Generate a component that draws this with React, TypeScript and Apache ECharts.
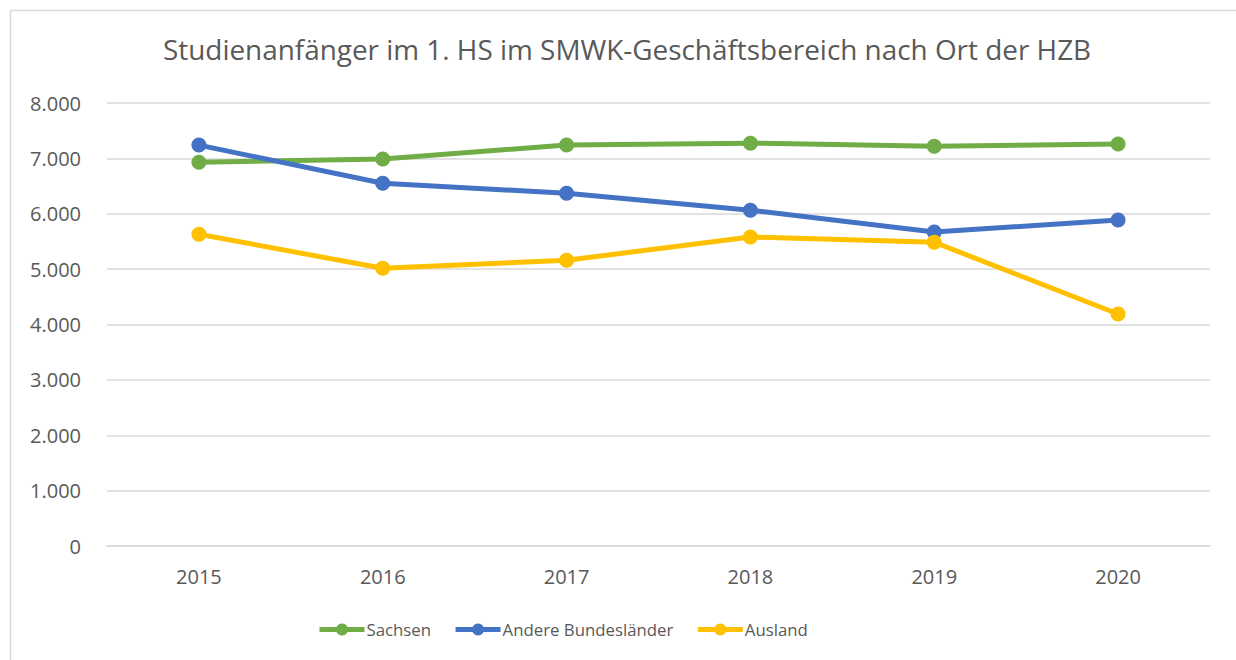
import React, { useEffect, useRef } from "react";
import * as echarts from "echarts";

const years = ["2015", "2016", "2017", "2018", "2019", "2020"];
const sachsen = [6930, 6990, 7240, 7275, 7220, 7260];
const andere = [7240, 6550, 6370, 6065, 5670, 5885];
const ausland = [5630, 5015, 5160, 5580, 5485, 4190];

const fmt = (v: number) => (v === 0 ? "0" : v.toLocaleString("de-DE"));

export default function App() {
  const ref = useRef<HTMLDivElement>(null);
  useEffect(() => {
    const chart = echarts.init(ref.current!, null, { renderer: "svg" });
    const font = "Open Sans, Noto Sans, sans-serif";
    const mk = (name: string, data: number[], color: string) => ({
      name,
      type: "line",
      data,
      symbol: "circle",
      symbolSize: 15,
      lineStyle: { width: 5, color },
      itemStyle: { color },
      z: 3,
    });
    chart.setOption({
      animation: false,
      backgroundColor: "#ffffff",
      title: {
        text: "Studienanfänger im 1. HS im SMWK-Geschäftsbereich nach Ort der HZB",
        left: 158,
        top: 30,
        textStyle: { fontFamily: font, fontSize: 27.9, fontWeight: "normal", color: "#595959" },
      },
      grid: { left: 107, right: 26, top: 103, bottom: 114 },
      legend: {
        bottom: 22,
        left: 317,
        padding: 0,
        itemWidth: 45,
        itemHeight: 15,
        itemGap: 22,
        lineStyle: { width: 5 },
        textStyle: { fontFamily: font, fontSize: 16.8, color: "#595959", padding: [0, 0, 0, -3] },
        data: ["Sachsen", "Andere Bundesländer", "Ausland"],
      },
      xAxis: {
        type: "category",
        data: years,
        boundaryGap: true,
        axisLine: { show: true, lineStyle: { color: "#d9d9d9", width: 1.5 } },
        axisTick: { show: false },
        axisLabel: { fontFamily: font, fontSize: 20, color: "#595959", margin: 20 },
      },
      yAxis: {
        type: "value",
        min: 0,
        max: 8000,
        interval: 1000,
        axisLine: { show: false },
        axisTick: { show: false },
        splitLine: { lineStyle: { color: "#d9d9d9", width: 1.5 } },
        axisLabel: { fontFamily: font, fontSize: 20, color: "#595959", margin: 26, formatter: fmt },
      },
      graphic: [
        { type: "line", shape: { x1: 10.5, y1: 10.5, x2: 1236, y2: 10.5 }, style: { stroke: "#d9d9d9", lineWidth: 1.5 } },
        { type: "line", shape: { x1: 10.5, y1: 10.5, x2: 10.5, y2: 660 }, style: { stroke: "#d9d9d9", lineWidth: 1.5 } },
      ],
      series: [
        mk("Sachsen", sachsen, "#70AD47"),
        mk("Andere Bundesländer", andere, "#4472C4"),
        mk("Ausland", ausland, "#FFC000"),
      ],
    });
    return () => chart.dispose();
  }, []);
  return <div ref={ref} style={{ position: "absolute", left: 0, top: 0, width: 1236, height: 660 }} />;
}
